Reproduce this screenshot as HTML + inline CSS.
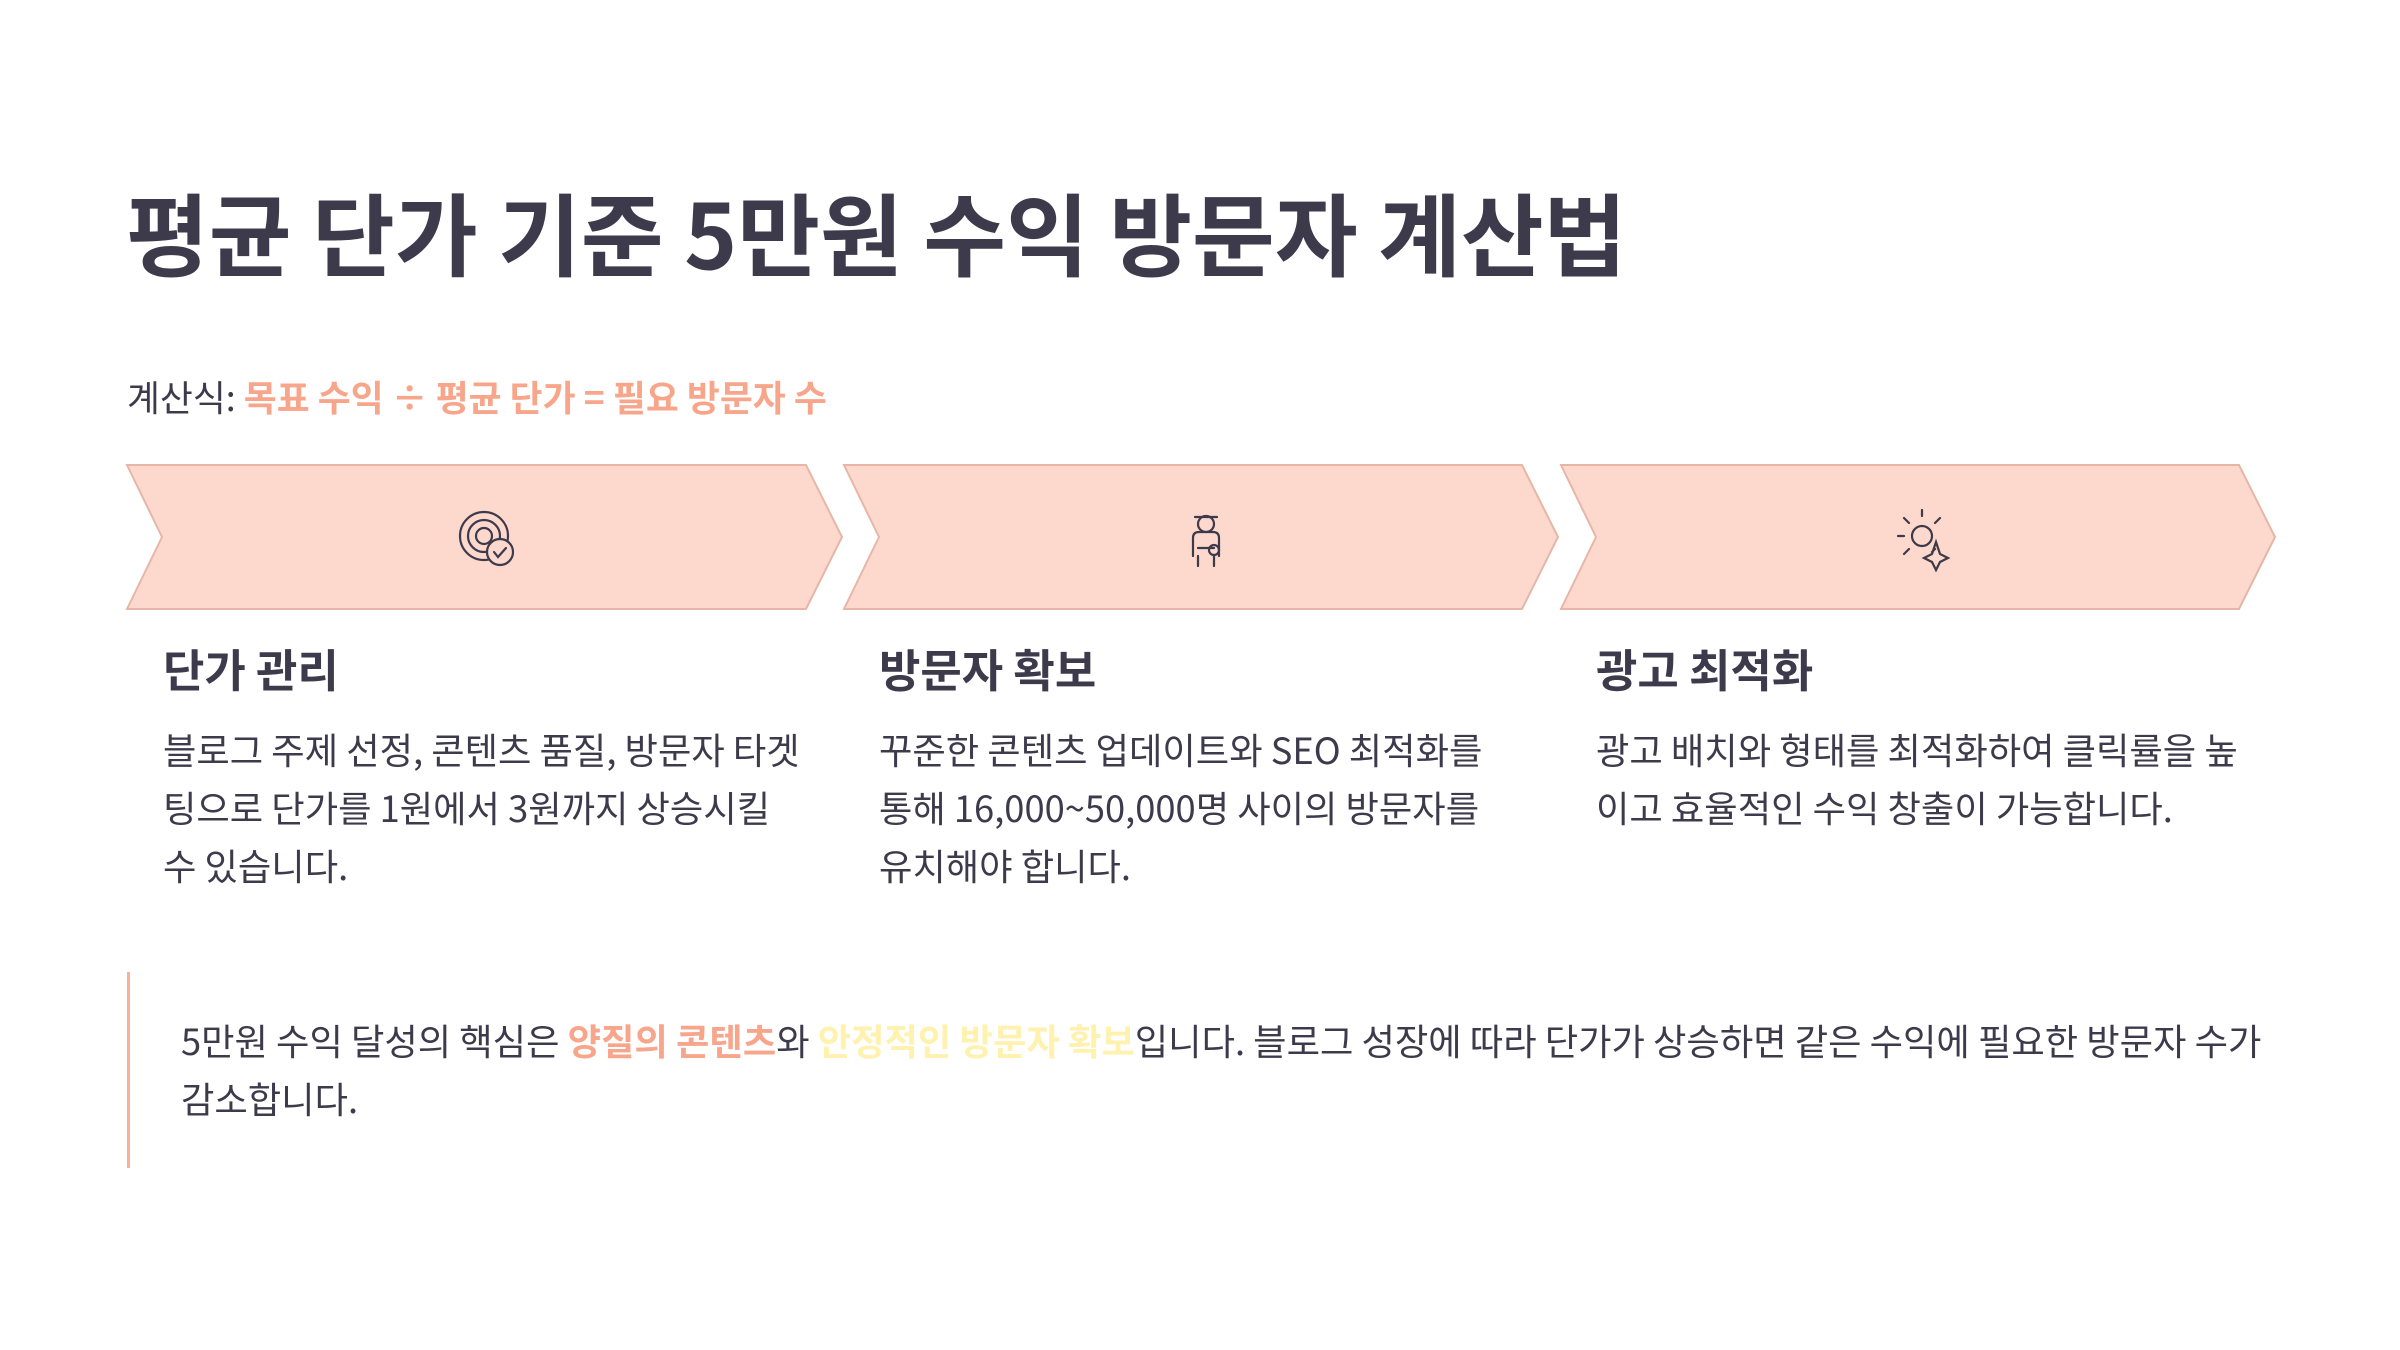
<!DOCTYPE html>
<html><head><meta charset="utf-8"><style>
body{margin:0;width:2400px;height:1350px;background:#fff;font-family:"Noto Sans CJK KR","Liberation Sans",sans-serif;color:#3d3a4b;position:relative;overflow:hidden}
.a{position:absolute;white-space:nowrap}
h1{position:absolute;left:126px;top:172px;margin:0;font-size:90px;font-weight:700;line-height:116px}
.f{left:127px;top:371px;font-size:35.8px;line-height:50px}
.o{color:#f8a68b;font-weight:700}
.y{color:#fff1ae;font-weight:700}
.h{font-size:45px;font-weight:700;top:642px;line-height:52px}
.b{font-size:36.3px;line-height:58px;top:720px;color:#3d3a4b}
.bar{position:absolute;left:127px;top:972px;width:3px;height:196px;background:#f9b09a}
.q{left:181px;top:1011px;font-size:36.3px;line-height:58px}
</style></head><body>
<h1>평균 단가 기준 5만원 수익 방문자 계산법</h1>
<div class="a f">계산식: <span class="o">목표 수익 ÷ 평균 단가 = 필요 방문자 수</span></div>
<svg class="a" style="left:0;top:0" width="2400" height="1350">
<g fill="#fdd8cc" stroke="#e6b6a6" stroke-width="2">
<polygon points="127,465 806,465 842,537 806,609 127,609 162,537"/>
<polygon points="844,465 1522,465 1558,537 1522,609 844,609 879,537"/>
<polygon points="1561,465 2239,465 2275,537 2239,609 1561,609 1596,537"/>
</g>
<g fill="none" stroke="#3d3a4b" stroke-width="2.2" stroke-linecap="round">
<circle cx="484" cy="536" r="24"/><circle cx="484" cy="536" r="16"/><circle cx="484" cy="536" r="8"/>
<circle cx="500" cy="552" r="13" fill="#fdd8cc"/><path d="M494,552 l4,5 l8,-9"/>
<circle cx="1206" cy="524" r="8"/><path d="M1195,517 h22 M1193,556 v-18 q0,-6 6,-6 h14 q6,0 6,6 v18 M1198,556 v10 M1214,556 v10 M1198,548 h16"/>
<circle cx="1214" cy="550" r="5"/>
<circle cx="1922" cy="536" r="10"/><path d="M1922,516 v-6 M1904,536 h-6 M1909,523 l-5,-5 M1935,523 l5,-5 M1909,549 l-5,5 M1935,549 l-3,3 M1936,542 l4,12 l8,4 l-8,4 l-4,8 l-4,-8 l-8,-4 l8,-4 z"/>
</g>
</svg>
<div class="a h" style="left:163px">단가 관리</div>
<div class="a h" style="left:879px">방문자 확보</div>
<div class="a h" style="left:1596px">광고 최적화</div>
<div class="a b" style="left:163px">블로그 주제 선정, 콘텐츠 품질, 방문자 타겟<br>팅으로 단가를 1원에서 3원까지 상승시킬<br>수 있습니다.</div>
<div class="a b" style="left:879px">꾸준한 콘텐츠 업데이트와 SEO 최적화를<br>통해 16,000~50,000명 사이의 방문자를<br>유치해야 합니다.</div>
<div class="a b" style="left:1596px">광고 배치와 형태를 최적화하여 클릭률을 높<br>이고 효율적인 수익 창출이 가능합니다.</div>
<div class="bar"></div>
<div class="a q">5만원 수익 달성의 핵심은 <span class="o">양질의 콘텐츠</span>와 <span class="y">안정적인 방문자 확보</span>입니다. 블로그 성장에 따라 단가가 상승하면 같은 수익에 필요한 방문자 수가<br>감소합니다.</div>
</body></html>
